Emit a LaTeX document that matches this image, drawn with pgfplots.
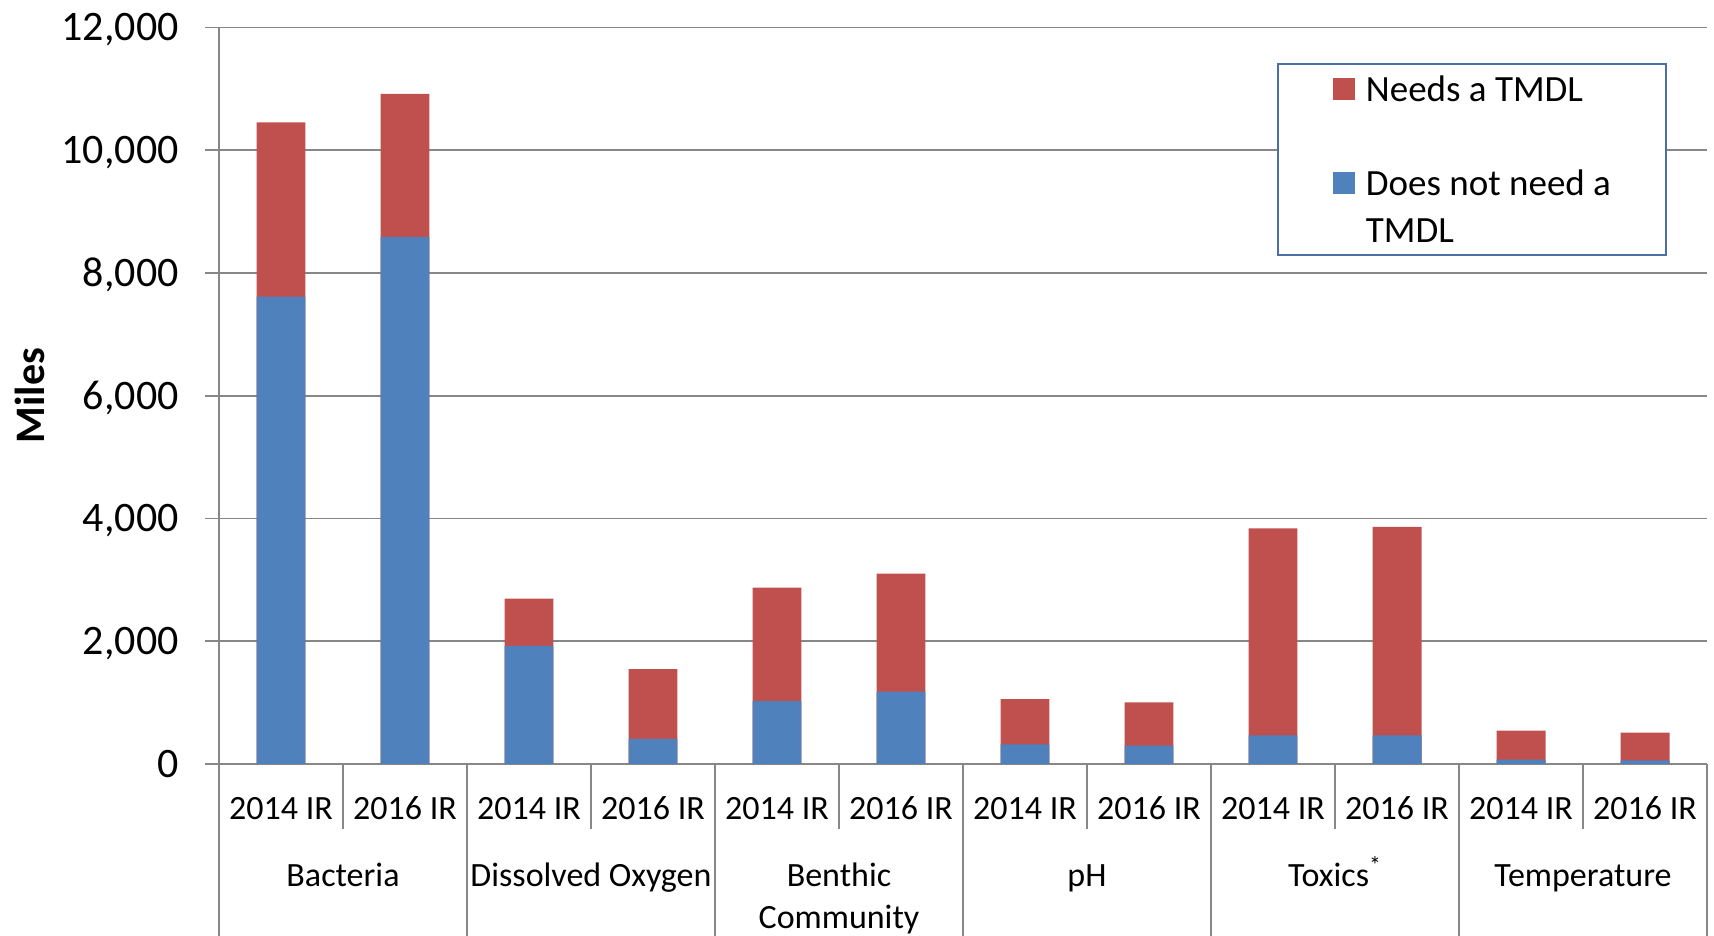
\documentclass[border=0pt]{standalone}
\usepackage{pgfplots}
\usepackage{pgfplotstable}
\pgfplotsset{compat=1.18}
\usepackage{fontspec}
\setmainfont{Carlito}
\definecolor{needs}{HTML}{C0504D}
\definecolor{notneed}{HTML}{4F81BD}
\definecolor{gridgray}{HTML}{878787}
\definecolor{legborder}{HTML}{4A6FA5}

% total = miles needing + not needing a TMDL; notneed = miles not needing a TMDL
\pgfplotstableread{
x notneed total
0 7615 10455
1 8590 10920
2 1925 2695
3 410 1545
4 1025 2875
5 1180 3100
6 320 1055
7 300 1005
8 465 3840
9 465 3865
10 70 543
11 60 511
}\datatable

\begin{document}
\begin{tikzpicture}
\begin{axis}[
  scale only axis, width=744pt, height=368.25pt,
  xmin=-0.5, xmax=11.5, ymin=0, ymax=12000,
  ybar, bar shift=0pt, bar width=0.395,
  axis x line*=bottom, axis y line*=left,
  axis line style={draw=gridgray, line width=0.8pt, -},
  clip=false,
  scaled y ticks=false,
  ytick={0,2000,4000,6000,8000,10000,12000},
  ymajorgrids, grid style={draw=gridgray, line width=0.8pt},
  tick align=outside, major tick length=7pt,
  y tick style={draw=gridgray, line width=0.8pt},
  x tick style={draw=none},
  xtick={0,1,2,3,4,5,6,7,8,9,10,11},
  xticklabels={2014 IR,2016 IR,2014 IR,2016 IR,2014 IR,2016 IR,2014 IR,2016 IR,2014 IR,2016 IR,2014 IR,2016 IR},
  xticklabel style={font=\fontsize{17}{20}\selectfont, anchor=center, yshift=-15pt, text height=11pt, text depth=0pt},
  yticklabel style={font=\fontsize{21}{25}\selectfont, anchor=east, text height=13.4pt, text depth=0pt, inner sep=0pt, xshift=-13pt},
  /pgf/number format/.cd, 1000 sep={,}, assume math mode=true, /pgfplots/.cd,
  legend image code/.code={\fill[#1] (0pt,-5.5pt) rectangle (11pt,5.5pt);},
  legend cell align=left,
  legend style={at={(0.711,0.952)}, anchor=north west, draw=legborder, line width=1pt, fill=white,
    font=\fontsize{18.5}{22}\selectfont, inner xsep=27.5pt, inner ysep=0.9pt, row sep=0pt, column sep=5.5pt,
    nodes={inner sep=0pt, text height=17.75pt, text depth=5.75pt}},
]
\addplot[fill=needs, draw=none] table[x=x, y=total] {\datatable};
\addlegendentry{Needs a TMDL}
\addlegendimage{empty legend}
\addlegendentry{}
\addplot[fill=notneed, draw=none] table[x=x, y=notneed] {\datatable};
\addlegendentry{Does not need a}
\addlegendimage{empty legend}
\addlegendentry{TMDL}
\pgfplotsinvokeforeach{0.5,2.5,4.5,6.5,8.5,10.5}{
  \draw[gridgray, line width=0.8pt] (axis cs:#1,0) -- ++(0pt,-32.5pt);
}
\pgfplotsinvokeforeach{-0.5,1.5,3.5,5.5,7.5,9.5,11.5}{
  \draw[gridgray, line width=0.8pt] (axis cs:#1,0) -- ++(0pt,-86pt);
}
\begin{scope}[every node/.style={font=\fontsize{17}{20}\selectfont, anchor=center, text height=11pt, text depth=0pt, inner sep=0pt}]
\node at (axis cs:0.5,0) [yshift=-55.5pt] {Bacteria};
\node at (axis cs:2.5,0) [yshift=-55.5pt] {Dissolved Oxygen};
\node at (axis cs:4.5,0) [yshift=-55.5pt] {Benthic};
\node at (axis cs:4.5,0) [yshift=-76.5pt] {Community};
\node at (axis cs:6.5,0) [yshift=-55.5pt] {pH};
\node at (axis cs:8.5,0) [yshift=-55.5pt] {Toxics\textsuperscript{*}};
\node at (axis cs:10.5,0) [yshift=-55.5pt] {Temperature};
\end{scope}
\end{axis}
\node[rotate=90, font=\bfseries\fontsize{21}{25}\selectfont, anchor=center] at ([xshift=-94.75pt]current axis.west) {Miles};
\pgfresetboundingbox
\path[use as bounding box] ([shift={(-109.5pt,-86pt)}]current axis.south west) rectangle ([shift={(3.5pt,13.75pt)}]current axis.north east);
\end{tikzpicture}
\end{document}
